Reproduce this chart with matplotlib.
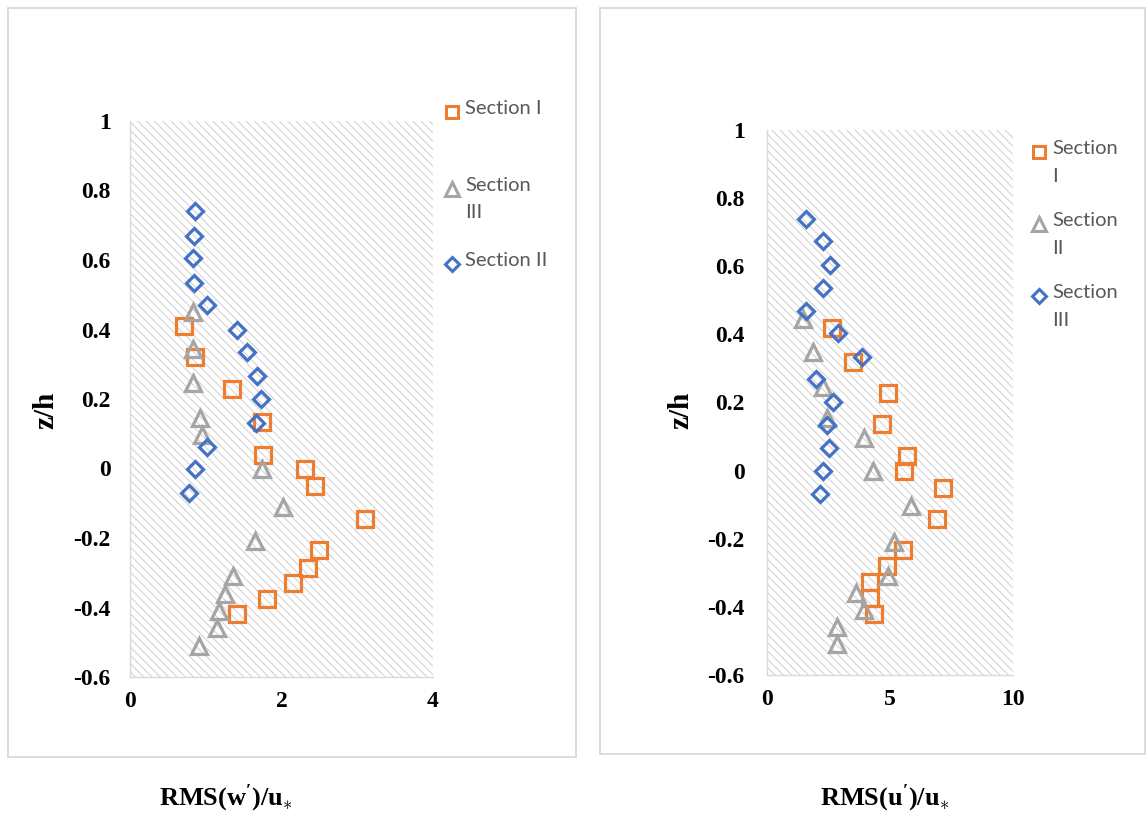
import matplotlib
matplotlib.use("Agg")
import matplotlib.pyplot as plt
from matplotlib.lines import Line2D
from matplotlib.patches import Rectangle

plt.rcParams["mathtext.fontset"] = "custom"
plt.rcParams["mathtext.rm"] = "Liberation Serif"
plt.rcParams["mathtext.bf"] = "Liberation Serif:bold"
plt.rcParams["hatch.linewidth"] = 0.75
plt.rcParams["hatch.color"] = "#d2d2d2"

ORANGE = "#ed7d31"
GREY = "#a5a5a5"
BLUE = "#4472c4"

# vertical-velocity panel, RMS(w')/u*
w_sec1_x = [0.71, 0.86, 1.35, 1.74, 1.76, 2.31, 2.44, 3.10, 2.49, 2.35, 2.15, 1.81, 1.41]
w_sec1_z = [0.41, 0.32, 0.23, 0.135, 0.04, 0.0, -0.05, -0.145, -0.235, -0.285, -0.33, -0.375, -0.42]
w_sec3_x = [0.83, 0.83, 0.83, 0.92, 0.95, 1.74, 2.02, 1.65, 1.36, 1.25, 1.17, 1.15, 0.91]
w_sec3_z = [0.45, 0.345, 0.245, 0.145, 0.095, 0.0, -0.11, -0.21, -0.31, -0.36, -0.41, -0.46, -0.51]
w_sec2_x = [0.86, 0.85, 0.83, 0.85, 1.01, 1.41, 1.55, 1.67, 1.73, 1.66, 1.01, 0.86, 0.78]
w_sec2_z = [0.74, 0.67, 0.605, 0.535, 0.47, 0.40, 0.335, 0.265, 0.20, 0.13, 0.063, 0.0, -0.07]

# streamwise panel, RMS(u')/u*
u_sec1_x = [2.64, 3.50, 4.92, 4.67, 5.69, 5.57, 7.15, 6.91, 5.53, 4.88, 4.19, 4.19, 4.35]
u_sec1_z = [0.418, 0.32, 0.227, 0.138, 0.044, 0.0, -0.05, -0.142, -0.233, -0.28, -0.326, -0.373, -0.42]
u_sec2_x = [1.46, 1.88, 2.27, 2.45, 3.95, 4.31, 5.85, 5.16, 4.92, 3.62, 3.95, 2.85, 2.85]
u_sec2_z = [0.445, 0.347, 0.245, 0.155, 0.095, 0.0, -0.105, -0.21, -0.31, -0.36, -0.41, -0.46, -0.51]
u_sec3_x = [1.59, 2.28, 2.56, 2.28, 1.59, 2.89, 3.86, 1.99, 2.68, 2.43, 2.52, 2.28, 2.15]
u_sec3_z = [0.74, 0.673, 0.605, 0.537, 0.47, 0.403, 0.335, 0.27, 0.20, 0.135, 0.065, 0.0, -0.068]

z_ticks = [-0.6, -0.4, -0.2, 0, 0.2, 0.4, 0.6, 0.8, 1]
z_tick_labels = ["-0.6", "-0.4", "-0.2", "0", "0.2", "0.4", "0.6", "0.8", "1"]

left_legend = ["Section I", "Section\nIII", "Section II"]
right_legend = ["Section\nI", "Section\nII", "Section\nIII"]

W, H = 1146, 814
fig = plt.figure(figsize=(W / 100, H / 100), dpi=100)


def fx(px):
    return px / W


def fy(py):
    return 1 - py / H


def panel_box(x0, y0, x1, y1):
    fig.add_artist(Rectangle((fx(x0), fy(y1)), fx(x1) - fx(x0), fy(y0) - fy(y1),
                             transform=fig.transFigure, facecolor="none",
                             edgecolor="#d9d9d9", lw=1.3, zorder=0))


def setup_axes(rect, xmax, xticks, ypad):
    ax = fig.add_axes(rect)
    ax.add_patch(Rectangle((0, 0), 1, 1, transform=ax.transAxes, facecolor="white",
                           edgecolor="#d2d2d2", hatch="\\\\\\\\", lw=0, zorder=0))
    ax.set_xlim(0, xmax)
    ax.set_ylim(-0.6, 1)
    ax.set_xticks(xticks)
    ax.set_xticklabels([str(t) for t in xticks])
    ax.set_yticks(z_ticks)
    ax.set_yticklabels(z_tick_labels)
    for s in ["top", "right"]:
        ax.spines[s].set_visible(False)
    for s in ["left", "bottom"]:
        ax.spines[s].set_color("#d9d9d9")
        ax.spines[s].set_linewidth(1.0)
    ax.tick_params(length=0)
    ax.tick_params(axis="y", pad=ypad)
    ax.tick_params(axis="x", pad=10)
    for lab in ax.get_xticklabels() + ax.get_yticklabels():
        lab.set_fontfamily("Liberation Serif")
        lab.set_fontweight("bold")
        lab.set_fontsize(17)
    return ax


series_style = {
    "s": dict(marker="s", ms=11, color=ORANGE, lms=8.5),
    "^": dict(marker="^", ms=12, color=GREY, lms=9.5),
    "D": dict(marker="D", ms=8.5, color=BLUE, lms=7),
}


def scatter(ax, x, z, key):
    st = series_style[key]
    ax.plot(x, z, linestyle="none", marker=st["marker"], ms=st["ms"],
            markerfacecolor="none", markeredgecolor=st["color"], mew=2.3,
            clip_on=False)


def legend(mx, tx, ys, labels, keys):
    for y, lab, key in zip(ys, labels, keys):
        st = series_style[key]
        fig.add_artist(Line2D([fx(mx)], [fy(y)], transform=fig.transFigure,
                              marker=st["marker"], ms=st["lms"],
                              markerfacecolor="none", markeredgecolor=st["color"],
                              mew=2.2, linestyle="none"))
        fig.text(fx(tx), fy(y - 12), lab, fontsize=14.5, family="Lato", color="#595959",
                 va="top", ha="left", linespacing=1.75)


# left panel
panel_box(8, 8, 576, 757)
ax1 = setup_axes([fx(130), fy(677), fx(433) - fx(130), fy(121) - fy(677)], 4, [0, 2, 4], 14)
scatter(ax1, w_sec1_x, w_sec1_z, "s")
scatter(ax1, w_sec3_x, w_sec3_z, "^")
scatter(ax1, w_sec2_x, w_sec2_z, "D")
legend(452, 465, [112, 189, 264], left_legend, ["s", "^", "D"])
fig.text(fx(46), fy(410), "z/h", rotation=90, fontsize=21, family="Liberation Serif",
         fontweight="bold", ha="center", va="center")
fig.text(fx(226), fy(798), r"$\mathbf{RMS(w^{\prime})/u}_{\ast}$", fontsize=19,
         ha="center", va="center")

# right panel
panel_box(600, 8, 1145, 754)
ax2 = setup_axes([fx(767), fy(675), fx(1013) - fx(767), fy(130) - fy(675)], 10, [0, 5, 10], 16)
scatter(ax2, u_sec1_x, u_sec1_z, "s")
scatter(ax2, u_sec2_x, u_sec2_z, "^")
scatter(ax2, u_sec3_x, u_sec3_z, "D")
legend(1039, 1052, [152, 224, 296], right_legend, ["s", "^", "D"])
fig.text(fx(681), fy(410), "z/h", rotation=90, fontsize=21, family="Liberation Serif",
         fontweight="bold", ha="center", va="center")
fig.text(fx(885), fy(798), r"$\mathbf{RMS(u^{\prime})/u}_{\ast}$", fontsize=19,
         ha="center", va="center")

fig.savefig("out.png", dpi=100)
